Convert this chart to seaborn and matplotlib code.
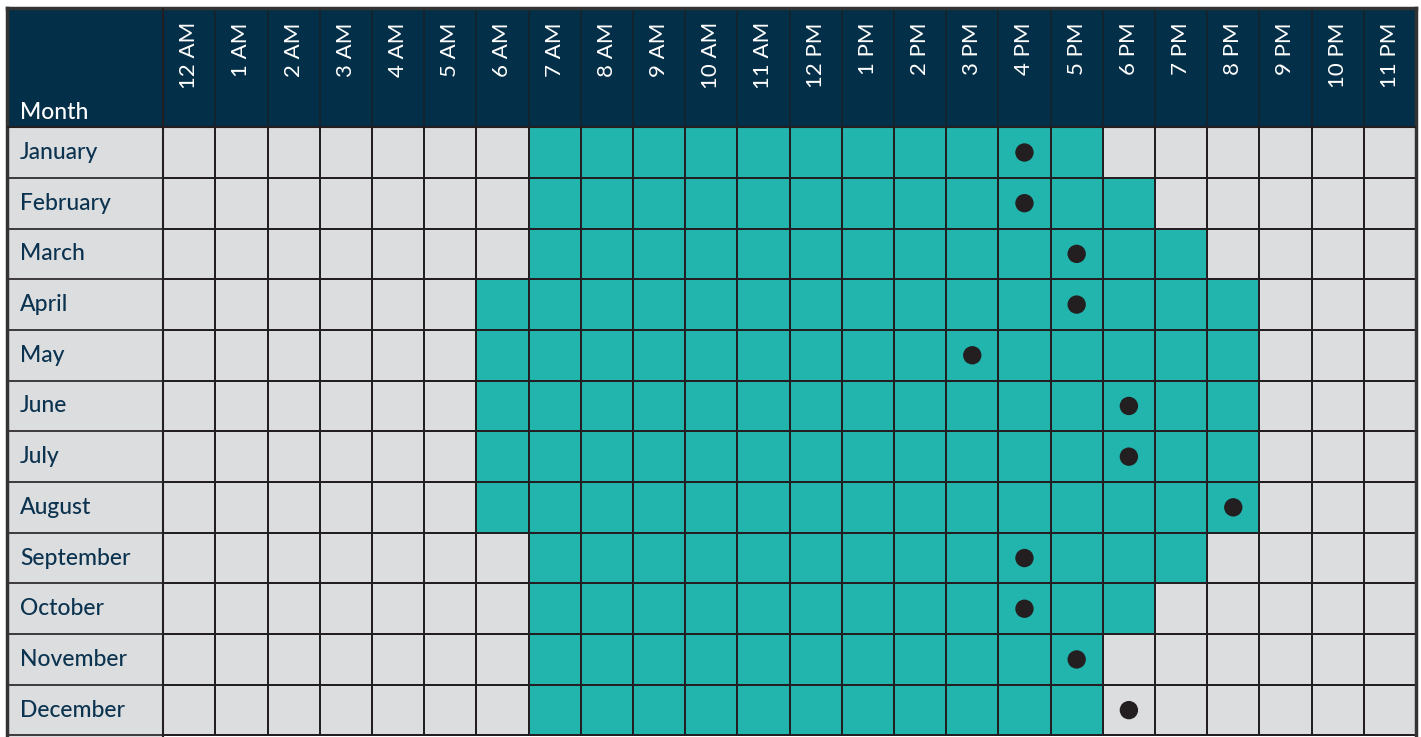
import numpy as np
import pandas as pd
import matplotlib
matplotlib.use("Agg")
import matplotlib.pyplot as plt
from matplotlib.colors import ListedColormap
from matplotlib.patches import Rectangle
import seaborn as sns

# data
months = ["January", "February", "March", "April", "May", "June", "July",
          "August", "September", "October", "November", "December"]
hour_labels = ["12 AM", "1 AM", "2 AM", "3 AM", "4 AM", "5 AM", "6 AM", "7 AM",
               "8 AM", "9 AM", "10 AM", "11 AM", "12 PM", "1 PM", "2 PM", "3 PM",
               "4 PM", "5 PM", "6 PM", "7 PM", "8 PM", "9 PM", "10 PM", "11 PM"]
first_hour = [7, 7, 7, 6, 6, 6, 6, 6, 7, 7, 7, 7]
last_hour = [17, 18, 19, 20, 20, 20, 20, 20, 19, 18, 17, 17]
peak_hour = [16, 16, 17, 17, 15, 18, 18, 20, 16, 16, 17, 18]

navy = "#042f48"
teal = "#22b5ad"
gray = "#dcdddf"
line = "#231f20"
text_navy = "#0b3350"

hours = np.arange(24)
grid = pd.DataFrame(
    [[1 if f <= h <= l else 0 for h in hours] for f, l in zip(first_hour, last_hour)],
    index=months, columns=hour_labels)

peaks = pd.DataFrame({"x": np.array(peak_hour) + 0.5,
                      "y": np.arange(len(months)) + 0.5})

sns.set_theme(style="white")
plt.rcParams["font.family"] = ["Lato", "DejaVu Sans"]

fig = plt.figure(figsize=(14.21, 7.37), dpi=100)
ax = fig.add_axes([7 / 1421, 0, 1409 / 1421, 729 / 737])

sns.heatmap(grid, cmap=ListedColormap([gray, teal]), vmin=0, vmax=1, cbar=False,
            linewidths=1.2, linecolor=line, xticklabels=False, yticklabels=False, ax=ax)

left = -2.99
top = -2.35
ax.set_xlim(left, 24)
ax.set_ylim(12.03, top)

# header band and month column
ax.add_patch(Rectangle((left, top), 24 - left, -top, color=navy, zorder=0.5))
ax.add_patch(Rectangle((left, 0), -left, 12.1, color=gray, zorder=0.5))
ax.vlines(np.arange(0, 25), top, 0, color="#14222c", lw=1.2, zorder=1)
ax.hlines(np.arange(0, 13), left, 0, color=line, lw=1.2, zorder=1)
ax.hlines(0, left, 24, color=line, lw=1.5, zorder=3)
ax.vlines(0, top, 12.1, color=line, lw=1.5, zorder=3)

for i, lab in enumerate(hour_labels):
    ax.text(i + 0.5, top + 0.28, lab, rotation=90, ha="center", va="top",
            color="white", fontsize=16, zorder=5)

ax.text(left + 0.25, -0.28, "Month", ha="left", va="center", color="white",
        fontsize=16.5, fontweight="medium", zorder=5)
for i, m in enumerate(months):
    ax.text(left + 0.25, i + 0.5, m, ha="left", va="center", color=text_navy,
            fontsize=16.5, fontweight="medium", zorder=5)

sns.scatterplot(data=peaks, x="x", y="y", s=175, color=line, edgecolor="none",
                ax=ax, zorder=4, legend=False)
ax.set_xlabel("")
ax.set_ylabel("")
ax.set_xticks([])
ax.set_yticks([])

for side in ["left", "top", "right"]:
    ax.spines[side].set_visible(True)
    ax.spines[side].set_color("#333333")
    ax.spines[side].set_linewidth(2.5)
ax.spines["bottom"].set_visible(False)

fig.savefig("out.png", dpi=100, facecolor="white")
